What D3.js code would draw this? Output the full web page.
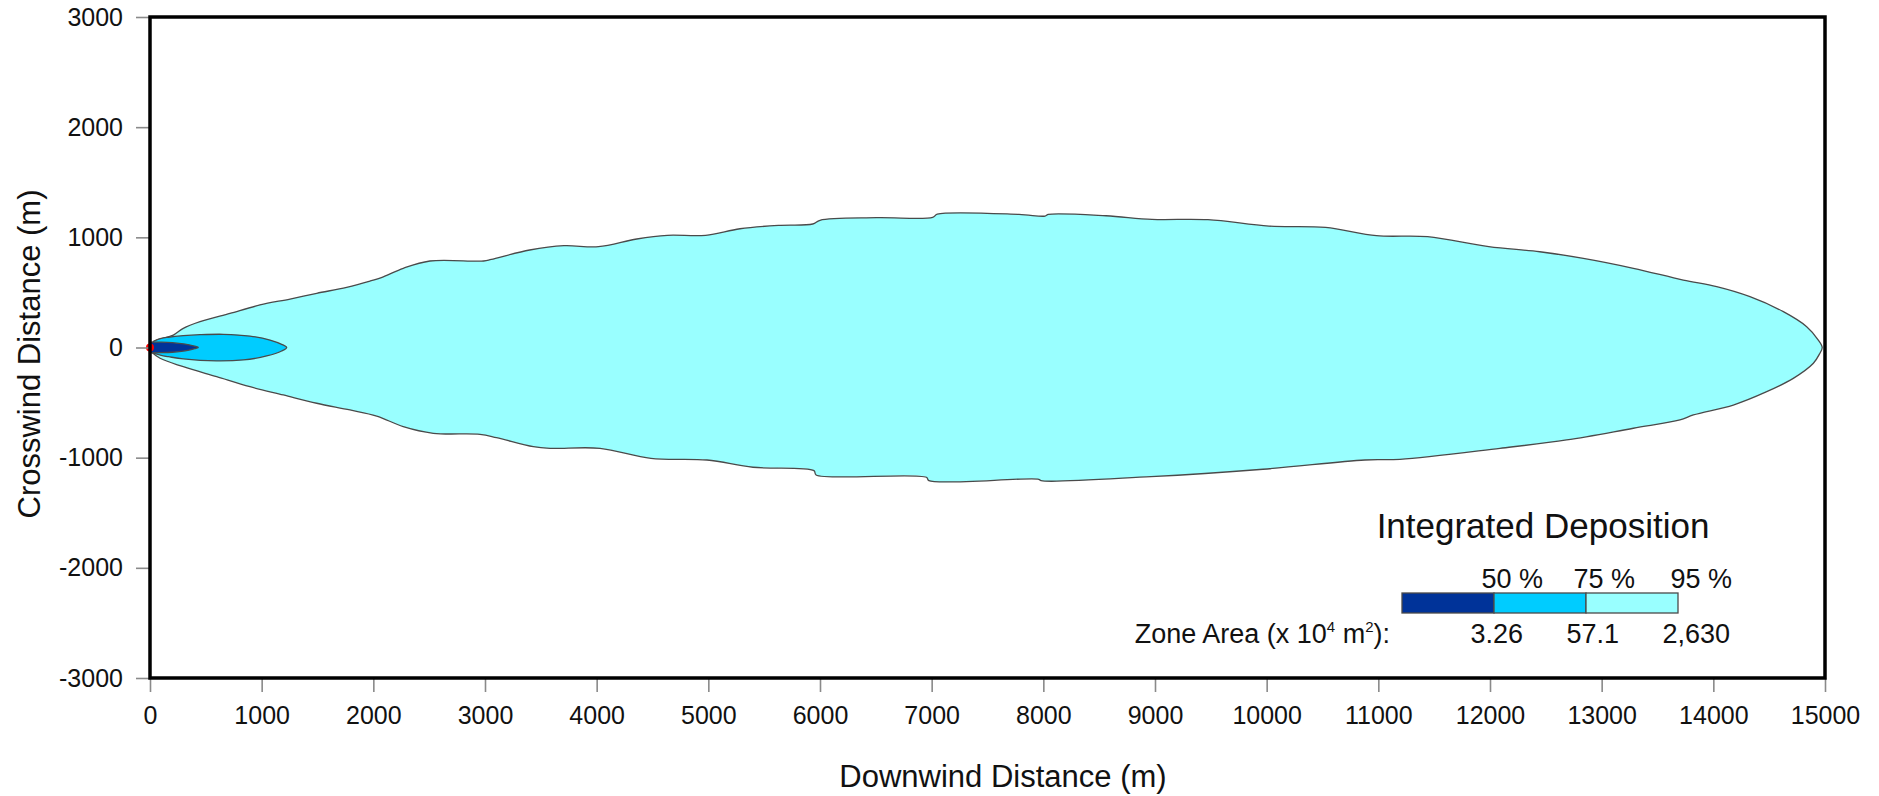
<!DOCTYPE html>
<html>
<head>
<meta charset="utf-8">
<script src="https://cdn.jsdelivr.net/npm/d3@7/dist/d3.min.js"></script>
<style>
    body { margin: 0; background: #fff; }
    svg { display: block; font-family: "Liberation Sans", Arial, sans-serif; }
    .tick line { stroke: #8a8a8a; stroke-width: 1.6; }
    .tick text { fill: #111; font-size: 25px; }
</style>
</head>
<body>
<svg id="chart" width="1879" height="796"></svg>
<script>
// Tick values
const xTicks = d3.range(0, 15001, 1000);
const yTicks = d3.range(-3000, 3001, 1000);

// 95 % contour, upper and lower edge [downwind, crosswind] in metres
const outerUpper = [[0, 30], [60, 68], [209, 113], [298, 174], [448, 234], [716, 310], [985, 386], [1254, 440],
    [1493, 492], [1761, 546], [1970, 603], [2089, 642], [2268, 719], [2507, 785], [2988, 785], [3057, 800],
    [3400, 885], [3707, 924], [4016, 915], [4359, 985], [4633, 1018], [4976, 1018], [5283, 1078], [5627, 1109],
    [5935, 1121], [6000, 1155], [6506, 1178], [7009, 1181], [7050, 1210], [7782, 1208], [8015, 1193],
    [8045, 1208], [8561, 1196], [8973, 1163], [9474, 1160], [10021, 1102], [10527, 1090], [10983, 1015],
    [11441, 1006], [11989, 915], [12446, 869], [12836, 809], [13284, 719], [13731, 612], [14030, 552],
    [14328, 461], [14627, 325], [14836, 189], [14940, 68], [14975, 0]];
const outerLower = [[0, -30], [90, -98], [298, -174], [597, -265], [895, -356], [1194, -431], [1493, -506],
    [1791, -567], [2030, -622], [2268, -719], [2537, -779], [2955, -788], [3104, -818], [3433, -900],
    [3582, -915], [4030, -915], [4486, -1006], [4988, -1021], [5400, -1087], [5946, -1118], [5965, -1157],
    [6953, -1178], [6975, -1209], [7959, -1196], [7980, -1209], [8964, -1172], [9967, -1105], [10880, -1021],
    [11194, -1015], [12089, -915], [12686, -839], [13284, -733], [13701, -658], [13821, -612], [14179, -522],
    [14478, -401], [14716, -280], [14896, -143], [14950, -60]];

// 75 % contour
const midUpper = [[30, 55], [100, 82], [164, 93], [298, 107], [448, 116], [657, 120], [895, 104], [1075, 68],
    [1179, 29], [1224, 0]];
const midLower = [[30, -52], [100, -72], [164, -83], [298, -104], [597, -122], [836, -113], [1045, -77],
    [1179, -32]];

// 50 % contour
const innerUpper = [[0, 48], [100, 48], [200, 44], [280, 36], [350, 24], [400, 12], [433, 0]];
const innerLower = [[0, -48], [100, -47], [200, -43], [280, -35], [350, -23], [400, -11]];

// Legend
const levels = ['50 %', '75 %', '95 %'];
const zoneAreas = ['3.26', '57.1', '2,630'];
const zoneColors = ['#003399', '#00ccff', '#99ffff'];

const svg = d3.select('#chart');
const plotLeft = 150, plotRight = 1825, plotTop = 17, plotBottom = 678;

const x = d3.scaleLinear().domain([0, 15000]).range([plotLeft, plotRight]);
const y = d3.scaleLinear().domain([-3000, 3000]).range([plotBottom, plotTop]);

// Contours, largest first
const line = d3.line()
    .x(d => x(d[0]))
    .y(d => y(d[1]))
    .curve(d3.curveCatmullRom.alpha(0.5));

function ring(upper, lower) {
    return upper.concat(lower.slice().reverse());
}

const contours = [
    { pts: ring(outerUpper, outerLower), color: zoneColors[2] },
    { pts: ring(midUpper, midLower), color: zoneColors[1] },
    { pts: ring(innerUpper, innerLower), color: zoneColors[0] }
];

svg.selectAll('.zone')
    .data(contours)
    .enter()
    .append('path')
    .attr('class', 'zone')
    .attr('d', d => line(d.pts) + 'Z')
    .attr('fill', d => d.color)
    .attr('stroke', '#4a4a4a')
    .attr('stroke-width', 1.3);

// Source point
svg.append('circle')
    .attr('cx', x(0))
    .attr('cy', y(0))
    .attr('r', 4)
    .attr('fill', '#ff0000');

// Axes
const xAxis = svg.append('g')
    .attr('transform', 'translate(0,' + plotBottom + ')')
    .call(d3.axisBottom(x).tickValues(xTicks).tickSize(14).tickPadding(14).tickFormat(d => String(d)));
xAxis.select('.domain').remove();
xAxis.attr('font-family', null).attr('font-size', null);

const yAxis = svg.append('g')
    .attr('transform', 'translate(' + plotLeft + ',0)')
    .call(d3.axisLeft(y).tickValues(yTicks).tickSize(14).tickPadding(13).tickFormat(d => String(d)));
yAxis.select('.domain').remove();
yAxis.attr('font-family', null).attr('font-size', null);

// Frame
svg.append('rect')
    .attr('x', plotLeft)
    .attr('y', plotTop)
    .attr('width', plotRight - plotLeft)
    .attr('height', plotBottom - plotTop)
    .attr('fill', 'none')
    .attr('stroke', '#000')
    .attr('stroke-width', 3.5);

// Axis titles
svg.append('text')
    .attr('x', 1003)
    .attr('y', 787)
    .attr('text-anchor', 'middle')
    .attr('font-size', 31)
    .attr('fill', '#111')
    .text('Downwind Distance (m)');

svg.append('text')
    .attr('transform', 'translate(40,354) rotate(-90)')
    .attr('text-anchor', 'middle')
    .attr('font-size', 31)
    .attr('fill', '#111')
    .text('Crosswind Distance (m)');

// Legend
const lg = svg.append('g');
lg.append('text')
    .attr('x', 1543)
    .attr('y', 538)
    .attr('text-anchor', 'middle')
    .attr('font-size', 35)
    .attr('fill', '#111')
    .text('Integrated Deposition');

const segW = 92, segX = 1402;
lg.selectAll('.seg')
    .data(zoneColors)
    .enter()
    .append('rect')
    .attr('x', (d, i) => segX + i * segW)
    .attr('y', 593)
    .attr('width', segW)
    .attr('height', 20)
    .attr('fill', d => d)
    .attr('stroke', '#4a4a4a')
    .attr('stroke-width', 1.3);

const levelEnds = [1543, 1635, 1732];
lg.selectAll('.lvl')
    .data(levels)
    .enter()
    .append('text')
    .attr('x', (d, i) => levelEnds[i])
    .attr('y', 588)
    .attr('text-anchor', 'end')
    .attr('font-size', 27)
    .attr('fill', '#111')
    .text(d => d);

const areaEnds = [1523, 1619, 1730];
lg.selectAll('.area')
    .data(zoneAreas)
    .enter()
    .append('text')
    .attr('x', (d, i) => areaEnds[i])
    .attr('y', 643)
    .attr('text-anchor', 'end')
    .attr('font-size', 27)
    .attr('fill', '#111')
    .text(d => d);

const za = lg.append('text')
    .attr('x', 1390)
    .attr('y', 643)
    .attr('text-anchor', 'end')
    .attr('font-size', 27)
    .attr('fill', '#111');
za.append('tspan').text('Zone Area (x 10');
za.append('tspan').attr('dy', -11).attr('font-size', 15).text('4');
za.append('tspan').attr('dy', 11).text(' m');
za.append('tspan').attr('dy', -11).attr('font-size', 15).text('2');
za.append('tspan').attr('dy', 11).text('):');
</script>
</body>
</html>
